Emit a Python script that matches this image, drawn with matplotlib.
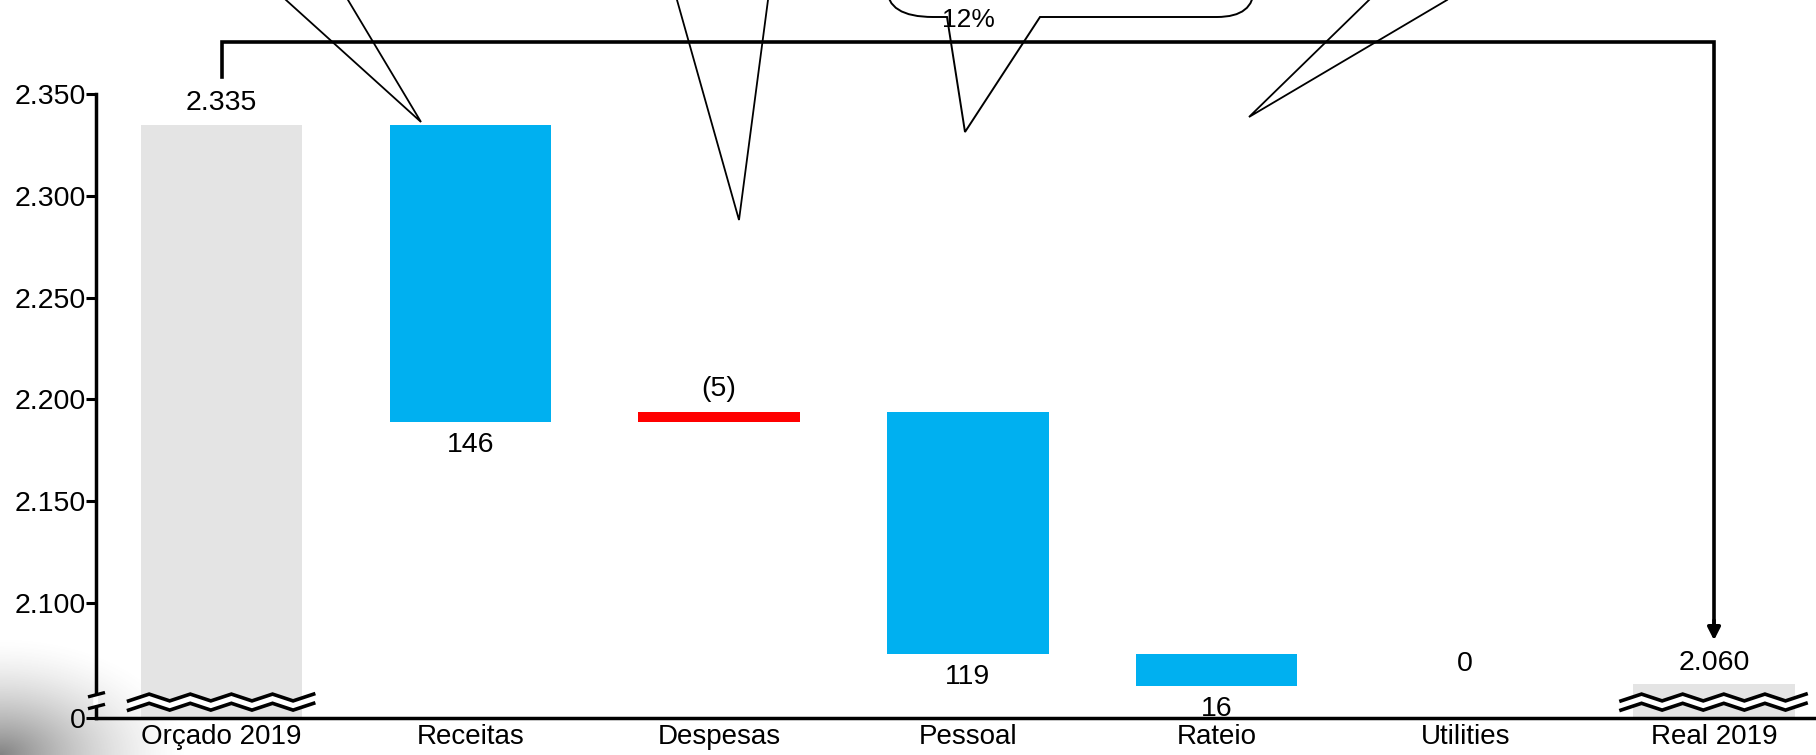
import matplotlib
matplotlib.use('Agg')
import matplotlib.pyplot as plt
from matplotlib.path import Path
from matplotlib.patches import PathPatch
from matplotlib.lines import Line2D
import numpy as np

# ---------------- data ----------------
categories = ['Orçado 2019', 'Receitas', 'Despesas', 'Pessoal', 'Rateio', 'Utilities', 'Real 2019']
start_value = 2335
start_label = '2.335'
deltas = [-146, 5, -119, -16, 0]
delta_labels = ['146', '(5)', '119', '16', '0']
end_value = 2060
end_label = '2.060'
yticks = [2100, 2150, 2200, 2250, 2300, 2350]
ytick_labels = ['2.100', '2.150', '2.200', '2.250', '2.300', '2.350']
axis_floor = 2043.4      # bottom of the broken axis, labelled "0"
floor_label = '0'
callout_text = '12%'

# ---------------- style ----------------
BLUE = '#00B0F0'
RED = '#FF0000'
GREY = '#E4E4E4'
TXT = 'Liberation Sans'
plt.rcParams['font.family'] = [TXT, 'DejaVu Sans']

W, H = 1816, 755
fig = plt.figure(figsize=(W / 100, H / 100), dpi=100)
fig.patch.set_facecolor('white')

# faint background smudge in the lower-left corner
bg = fig.add_axes([0, 0, 220 / W, 160 / H], zorder=-5)
gx, gy = np.meshgrid(np.linspace(0, 220, 220), np.linspace(0, 160, 160))
dist = np.hypot(gx / 1.6, gy)
shade = np.clip(1 - dist / 120, 0, 1) ** 1.6
img = np.ones((160, 220, 4))
img[..., :3] = 0.35
img[..., 3] = 0.75 * shade
bg.imshow(img, origin='lower', extent=[0, 220, 0, 160], aspect='auto')
bg.axis('off')

ax = fig.add_axes([96 / W, 1 - 718 / H, 1 - 96 / W, (718 - 94.3) / H])
ax.set_facecolor('none')

bw = 0.65
ax.set_xlim(-0.505, 6.41)
ax.set_ylim(axis_floor, 2350)

# first / last totals
last = len(categories) - 1
ax.bar(0, start_value - axis_floor, bottom=axis_floor, width=bw, color=GREY, zorder=2)
ax.bar(last, end_value - axis_floor, bottom=axis_floor, width=bw, color=GREY, zorder=2)

lab_kw = dict(ha='center', va='center', fontsize=20.5, textcoords='offset points', zorder=5)
ax.annotate(start_label, (0, start_value), xytext=(0, 16), **lab_kw)
ax.annotate(end_label, (last, end_value), xytext=(0, 15.5), **lab_kw)

running = start_value
for i, (d, lab) in enumerate(zip(deltas, delta_labels), start=1):
    new = running + d
    lo, hi = min(running, new), max(running, new)
    color = RED if d > 0 else BLUE
    if d != 0:
        ax.bar(i, hi - lo, bottom=lo, width=bw, color=color, zorder=2)
    if d < 0:
        ax.annotate(lab, (i, lo), xytext=(0, -16.5), **lab_kw)
    else:
        ax.annotate(lab, (i, hi), xytext=(0, 16), **lab_kw)
    running = new

# axes styling
for s in ['top', 'right']:
    ax.spines[s].set_visible(False)
for s in ['left', 'bottom']:
    ax.spines[s].set_linewidth(2.5)
    ax.spines[s].set_zorder(6)
ax.set_xticks(range(len(categories)))
ax.set_xticklabels(categories, fontsize=20)
ax.tick_params(axis='x', length=0, pad=4)
ax.set_yticks(yticks + [axis_floor])
ax.set_yticklabels(ytick_labels + [floor_label], fontsize=20.5)
ax.tick_params(axis='y', length=7, width=2.2, pad=0.5)

# ---------------- break marks ----------------
px = 2.034            # pixels per data unit (vertical)
xpx = 1 / 248.7       # data units per pixel (horizontal)
amp = 3.4 / px
for c in [0, last]:
    xs = np.linspace(c - 0.374, c + 0.37, 10)
    sgn = np.where(np.arange(10) % 2 == 0, -1.0, 1.0)
    upper = axis_floor + 20.5 / px + amp * sgn
    lower = axis_floor + 11.3 / px + amp * sgn
    ax.fill_between(xs, lower, upper, color='white', lw=0, zorder=7)
    for yy in (upper, lower):
        ax.plot(xs, yy, color='black', lw=2.6, solid_joinstyle='miter', zorder=8, clip_on=False)

# axis break on the y spine
x0 = -0.505
b_hi = axis_floor + 23.3 / px
b_lo = axis_floor + 11.5 / px
ax.plot([x0, x0], [b_lo, b_hi], color='white', lw=4, zorder=9, clip_on=False, solid_capstyle='butt')
for yb in (b_lo, b_hi):
    ax.plot([x0 - 8 * xpx, x0 + 9 * xpx], [yb - 2.2 / px, yb + 2.2 / px],
            color='black', lw=2.4, zorder=10, clip_on=False, solid_capstyle='butt')

# ---------------- bracket arrow from first to last total ----------------
top_y = 2350 + 52 / px
tip_y = end_value + 44 / px
ax.plot([0, 0, last, last], [start_value + 48 / px, top_y, top_y, tip_y + 10 / px],
        color='black', lw=2.6, zorder=6, clip_on=False, solid_joinstyle='miter')
ax.annotate('', xy=(last, tip_y), xytext=(last, tip_y + 20 / px),
            arrowprops=dict(arrowstyle='-|>,head_length=0.75,head_width=0.38', color='black', lw=2.6,
                            shrinkA=0, shrinkB=0),
            zorder=6, annotation_clip=False)

# ---------------- callout decorations (figure pixel coords) ----------------
def fpx(x, y):
    return x / W, 1 - y / H

def fline(pts, lw=1.3):
    xs, ys = zip(*[fpx(x, y) for x, y in pts])
    fig.add_artist(Line2D(xs, ys, color='black', lw=lw, transform=fig.transFigure,
                          solid_joinstyle='miter'))

fline([(286, 0), (421, 122), (348, 0)])
fline([(677, 0), (739, 220), (768, 0)])
fline([(1369, 0), (1249, 117), (1447, 0)])

verts = [fpx(887, -12), fpx(887, 17), fpx(933, 17), fpx(947, 17), fpx(965, 132), fpx(1040, 17),
         fpx(1217, 17), fpx(1254, 17), fpx(1254, -12)]
codes = [Path.MOVETO, Path.CURVE3, Path.CURVE3, Path.LINETO, Path.LINETO, Path.LINETO,
         Path.LINETO, Path.CURVE3, Path.CURVE3]
fig.add_artist(PathPatch(Path(verts, codes), facecolor='none', edgecolor='black', lw=1.4,
                         transform=fig.transFigure))
fig.text(968 / W, 1 - 20 / H, callout_text, ha='center', va='center', fontsize=19)

fig.savefig('out.png', dpi=100, facecolor='white')
